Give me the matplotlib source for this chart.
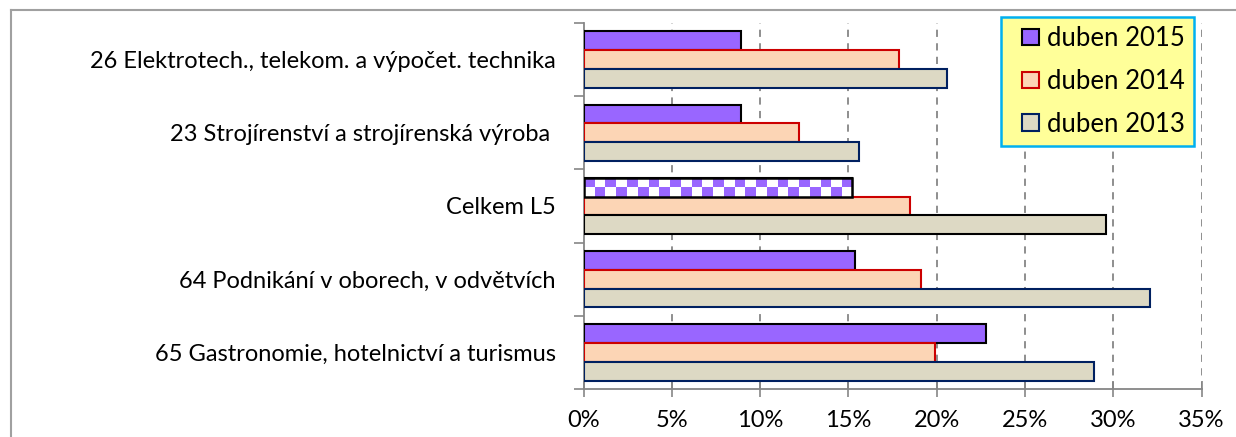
import numpy as np
import matplotlib
matplotlib.use('Agg')
import matplotlib.pyplot as plt
from matplotlib.lines import Line2D
from matplotlib.patches import Patch, Rectangle
from matplotlib.legend_handler import HandlerPatch

plt.rcParams['font.family'] = ['Lato', 'DejaVu Sans']

# data (share in %), categories top to bottom
categories = ['26 Elektrotech., telekom. a výpočet. technika',
              '23 Strojírenství a strojírenská výroba ',
              'Celkem L5',
              '64 Podnikání v oborech, v odvětvích',
              '65 Gastronomie, hotelnictví a turismus']
series = ['duben 2015', 'duben 2014', 'duben 2013']
v2015 = [8.9, 8.9, 15.2, 15.4, 22.8]
v2014 = [17.85, 12.2, 18.5, 19.1, 19.9]
v2013 = [20.6, 15.6, 29.6, 32.1, 28.9]
x_ticks = [0, 5, 10, 15, 20, 25, 30, 35]

fills = ['#9966FF', '#FCD5B5', '#DDD9C4']
edges = ['#000000', '#CC0000', '#002060']
total_idx = 2  # "Celkem L5" row has checkerboard bar

W, H = 1236, 437
fig = plt.figure(figsize=(W / 100, H / 100), dpi=100)
ax = fig.add_axes([583.5 / W, 1 - 389 / H, 618 / W, 366 / H])

y = np.arange(len(categories))
h = 0.257
vals = [v2015, v2014, v2013]
for k in range(3):
    pos = y + (k - 1) * h
    ec = list(edges[k] for _ in categories)
    if k == 2:
        ec[total_idx] = '#000000'
    fc = [fills[k]] * len(categories)
    if k == 0:
        fc[total_idx] = 'white'
    bars = ax.barh(pos, vals[k], height=h, color=fc, edgecolor=ec,
                   linewidth=1.5, zorder=3)
    if k == 0:
        # checkerboard fill for the total bar
        b = bars[total_idx]
        cell = 0.6
        ncol = int(round(b.get_width() / cell))
        board = np.indices((2, ncol)).sum(axis=0) % 2
        cmap = matplotlib.colors.ListedColormap(['#9966FF', 'white'])
        ax.imshow(board, cmap=cmap, aspect='auto', interpolation='nearest',
                  extent=(b.get_x(), b.get_x() + b.get_width(),
                          b.get_y() + b.get_height(), b.get_y()),
                  zorder=3.5)
        ax.add_patch(plt.Rectangle((b.get_x(), b.get_y()), b.get_width(),
                                   b.get_height(), fill=False,
                                   edgecolor='black', linewidth=1.8, zorder=4))

ax.set_xlim(0, 35)
ax.set_ylim(len(categories) - 0.5, -0.5)
ax.set_xticks(x_ticks)
ax.set_xticklabels([f'{t}%' for t in x_ticks], fontsize=17)
ax.set_yticks(y)
ax.set_yticklabels(categories, fontsize=17)
ax.set_yticks(np.arange(len(categories) + 1) - 0.5, minor=True)
ax.tick_params(axis='y', which='major', length=0, pad=20)
ax.tick_params(axis='y', which='minor', length=7, color='#868686', width=1.2)
ax.tick_params(axis='x', direction='inout', length=12, color='#868686',
               width=1.2, pad=9)

for t in x_ticks[1:]:
    ax.axvline(t, color='#868686', lw=1.3, ls=(0, (4, 3.5)), zorder=1)

for s in ['top', 'right']:
    ax.spines[s].set_visible(False)
for s in ['left', 'bottom']:
    ax.spines[s].set_color('#868686')
    ax.spines[s].set_linewidth(1.3)


# legend square sits at the right end of a wider handle box
def square_handle(legend, orig_handle, xdescent, ydescent, width, height,
                  fontsize):
    size = 0.66 * fontsize
    return Rectangle((-xdescent + width - size, -ydescent + (height - size) / 2),
                     size, size)


handles = [Patch(facecolor=fills[k], edgecolor=edges[k], linewidth=1.5)
           for k in range(3)]
leg = fig.legend(handles, series, loc='upper left',
                 bbox_to_anchor=(1001 / W, 1 - 17 / H), fontsize=18.5,
                 frameon=True, fancybox=False, framealpha=1,
                 facecolor='#FFFF99', edgecolor='#00B0F0',
                 handler_map={Patch: HandlerPatch(patch_func=square_handle)},
                 handlelength=1.13, handleheight=0.7, handletextpad=0.3,
                 labelspacing=0.7, borderpad=0.35, borderaxespad=0)
leg.get_frame().set_linewidth(1.8)

# outer chart border (top and left visible)
fig.add_artist(Line2D([10.5 / W, 10.5 / W], [0, 1 - 10 / H],
                      transform=fig.transFigure, color='#A0A0A0', lw=1.5))
fig.add_artist(Line2D([10.5 / W, 1], [1 - 10 / H, 1 - 10 / H],
                      transform=fig.transFigure, color='#A0A0A0', lw=1.5))

fig.savefig('out.png', dpi=100, facecolor='white')
